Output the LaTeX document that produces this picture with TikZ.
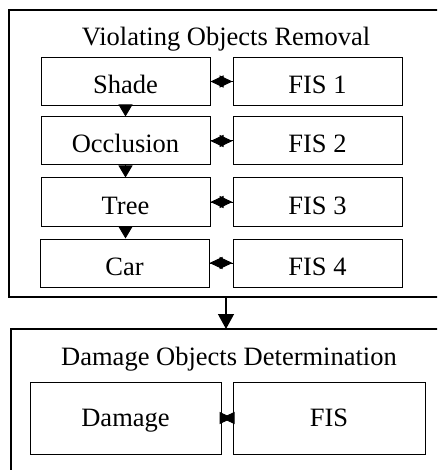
\documentclass[tikz,border=0pt]{standalone}
\usepackage{fontspec}
\setmainfont{Liberation Serif}
\usetikzlibrary{arrows.meta}
\begin{document}
\begin{tikzpicture}[x=1pt,y=-1pt,
  txt/.style={font=\fontsize{26.5}{30}\selectfont},
  inbox/.style={txt,draw,line width=1pt,minimum height=48pt,minimum width=169pt,inner sep=0pt,text height=24pt,text depth=0pt},
  bigbox/.style={txt,draw,line width=1pt,minimum height=72pt,inner sep=0pt,text height=18.5pt,text depth=2.5pt},
  title/.style={txt,inner sep=0pt,anchor=base},
  downarr/.style={-{Triangle[width=14pt,length=12pt]},line width=1pt},
  sidetip/.style={-{Triangle[width=12pt,length=13pt]},line width=1pt},
  mainarr/.style={-{Triangle[width=16pt,length=15pt]},line width=1.3pt}]
\useasboundingbox (0,0) rectangle (437,470);
\clip (0,0) rectangle (437,470);
% outer boxes
\draw[line width=1.3pt] (9,10) rectangle (445,297);
\draw[line width=1.3pt] (11,329) rectangle (449,485);
\coordinate (o1b) at (226,297);
\coordinate (o2t) at (226,329);
\node[title] (t1) at (226,46) {Violating Objects Removal};
\node[title] (t2) at (229,365) {Damage Objects Determination};
% inner boxes
\node[inbox] (shade) at (125.5,81.5) {Shade};
\node[inbox] (fis1) at (317.5,81.5) {FIS 1};
\node[inbox] (occl) at (125.5,141) {Occlusion};
\node[inbox] (fis2) at (317.5,141) {FIS 2};
\node[inbox] (tree) at (125.5,202) {Tree};
\node[inbox] (fis3) at (317.5,202) {FIS 3};
\node[inbox] (car) at (124.5,263) {Car};
\node[inbox] (fis4) at (317.5,263) {FIS 4};
\node[bigbox,minimum width=191pt] (dam) at (125.5,418) {Damage};
\node[bigbox,minimum width=192pt] (fis) at (329,418) {FIS};
% connectors
\draw[downarr] (shade.south) -- (occl.north);
\draw[downarr] (occl.south) -- (tree.north);
\draw[downarr] (tree.south) -- (car.north -| tree.south);
\foreach \a/\b in {shade/fis1,occl/fis2,tree/fis3,car/fis4}{
  \draw[sidetip] (\a.east) -- (\b.west);
  \draw[sidetip] (\b.west) -- (\a.east);
}
\draw[sidetip] (dam.east) -- (fis.west);
\draw[sidetip] (fis.west) -- (dam.east);
\draw[mainarr] (o1b) -- (o2t);
\end{tikzpicture}
\end{document}
